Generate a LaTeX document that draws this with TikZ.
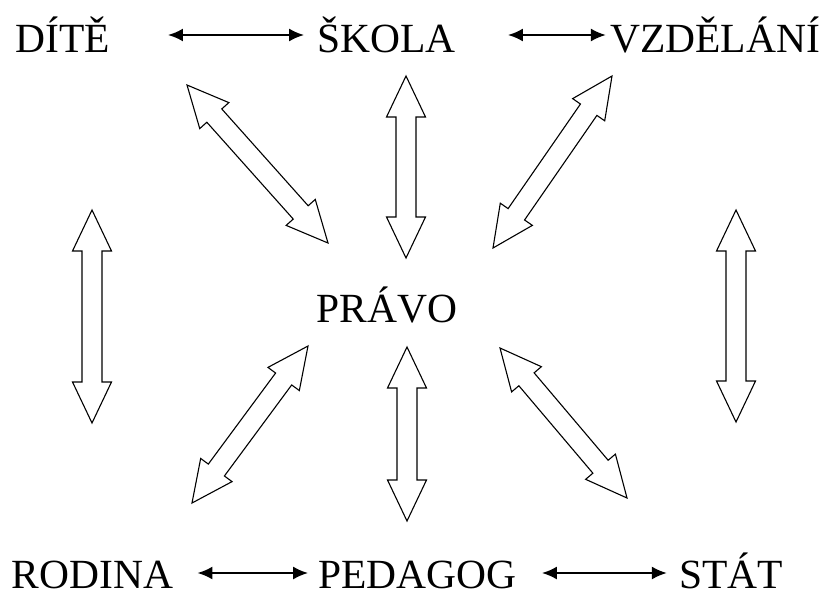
\documentclass[tikz,border=0pt]{standalone}
\usepackage{fontspec}
\setmainfont{Liberation Serif}
\usetikzlibrary{arrows.meta,calc}
\tikzstyle{word} = [inner sep=0pt, anchor=base, font=\fontsize{41.5}{50}\selectfont]
\tikzstyle{line} = [draw, line width=2.2pt, {Latex[length=15pt,width=13pt]}-{Latex[length=15pt,width=13pt]}]
\tikzstyle{hollow} = [draw, line width=1.1pt, line join=miter]
% hollow double arrow between two named coordinates
\newcommand{\dblarrow}[2]{%
  \path[hollow] (#1)
    -- ($ ($(#1)!41pt!(#2)$) !19.5pt!90:(#2) $)
    -- ($ ($(#1)!41pt!(#2)$) !10pt!90:(#2) $)
    -- ($ ($(#2)!41pt!(#1)$) !10pt!-90:(#1) $)
    -- ($ ($(#2)!41pt!(#1)$) !19.5pt!-90:(#1) $)
    -- (#2)
    -- ($ ($(#2)!41pt!(#1)$) !19.5pt!90:(#1) $)
    -- ($ ($(#2)!41pt!(#1)$) !10pt!90:(#1) $)
    -- ($ ($(#1)!41pt!(#2)$) !10pt!-90:(#2) $)
    -- ($ ($(#1)!41pt!(#2)$) !19.5pt!-90:(#2) $)
    -- cycle;}

\begin{document}
\begin{tikzpicture}[x=1pt, y=-1pt]
        \useasboundingbox (0,0) rectangle (826,592);
        \node[word] (dite) at (62.5,52) {DÍTĚ};
        \node[word] (skola) at (386.5,52) {ŠKOLA};
        \node[word] (vzdelani) at (715,52) {VZDĚLÁNÍ};
        \node[word] (pravo) at (387,322) {PRÁVO};
        \node[word] (rodina) at (92.5,588) {RODINA};
        \node[word] (pedagog) at (417.5,588) {PEDAGOG};
        \node[word] (stat) at (731,588) {STÁT};
        \path[line] ([shift={(58,-17)}]dite.base east) -- ([shift={(-13,-17)}]skola.base west);
        \path[line] ([shift={(52,-17)}]skola.base east) -- ([shift={(-4,-17)}]vzdelani.base west);
        \path[line] ([shift={(24,-15)}]rodina.base east) -- ([shift={(-10,-15)}]pedagog.base west);
        \path[line] ([shift={(25,-15)}]pedagog.base east) -- ([shift={(-12,-15)}]stat.base west);
        % block arrow ends
        \coordinate (dp1) at (187,85);   \coordinate (dp2) at (328,243);
        \coordinate (sp1) at (406,76);   \coordinate (sp2) at (406,258);
        \coordinate (vp1) at (612,76);   \coordinate (vp2) at (493,248);
        \coordinate (dr1) at (92,210);   \coordinate (dr2) at (92,423);
        \coordinate (vs1) at (736,210);  \coordinate (vs2) at (736,422);
        \coordinate (pr1) at (308,346);  \coordinate (pr2) at (192,503);
        \coordinate (pp1) at (407,347);  \coordinate (pp2) at (407,521);
        \coordinate (ps1) at (500,348);  \coordinate (ps2) at (627,498);
        \dblarrow{dp1}{dp2}
        \dblarrow{sp1}{sp2}
        \dblarrow{vp1}{vp2}
        \dblarrow{dr1}{dr2}
        \dblarrow{vs1}{vs2}
        \dblarrow{pr1}{pr2}
        \dblarrow{pp1}{pp2}
        \dblarrow{ps1}{ps2}
    \end{tikzpicture}
\end{document}
